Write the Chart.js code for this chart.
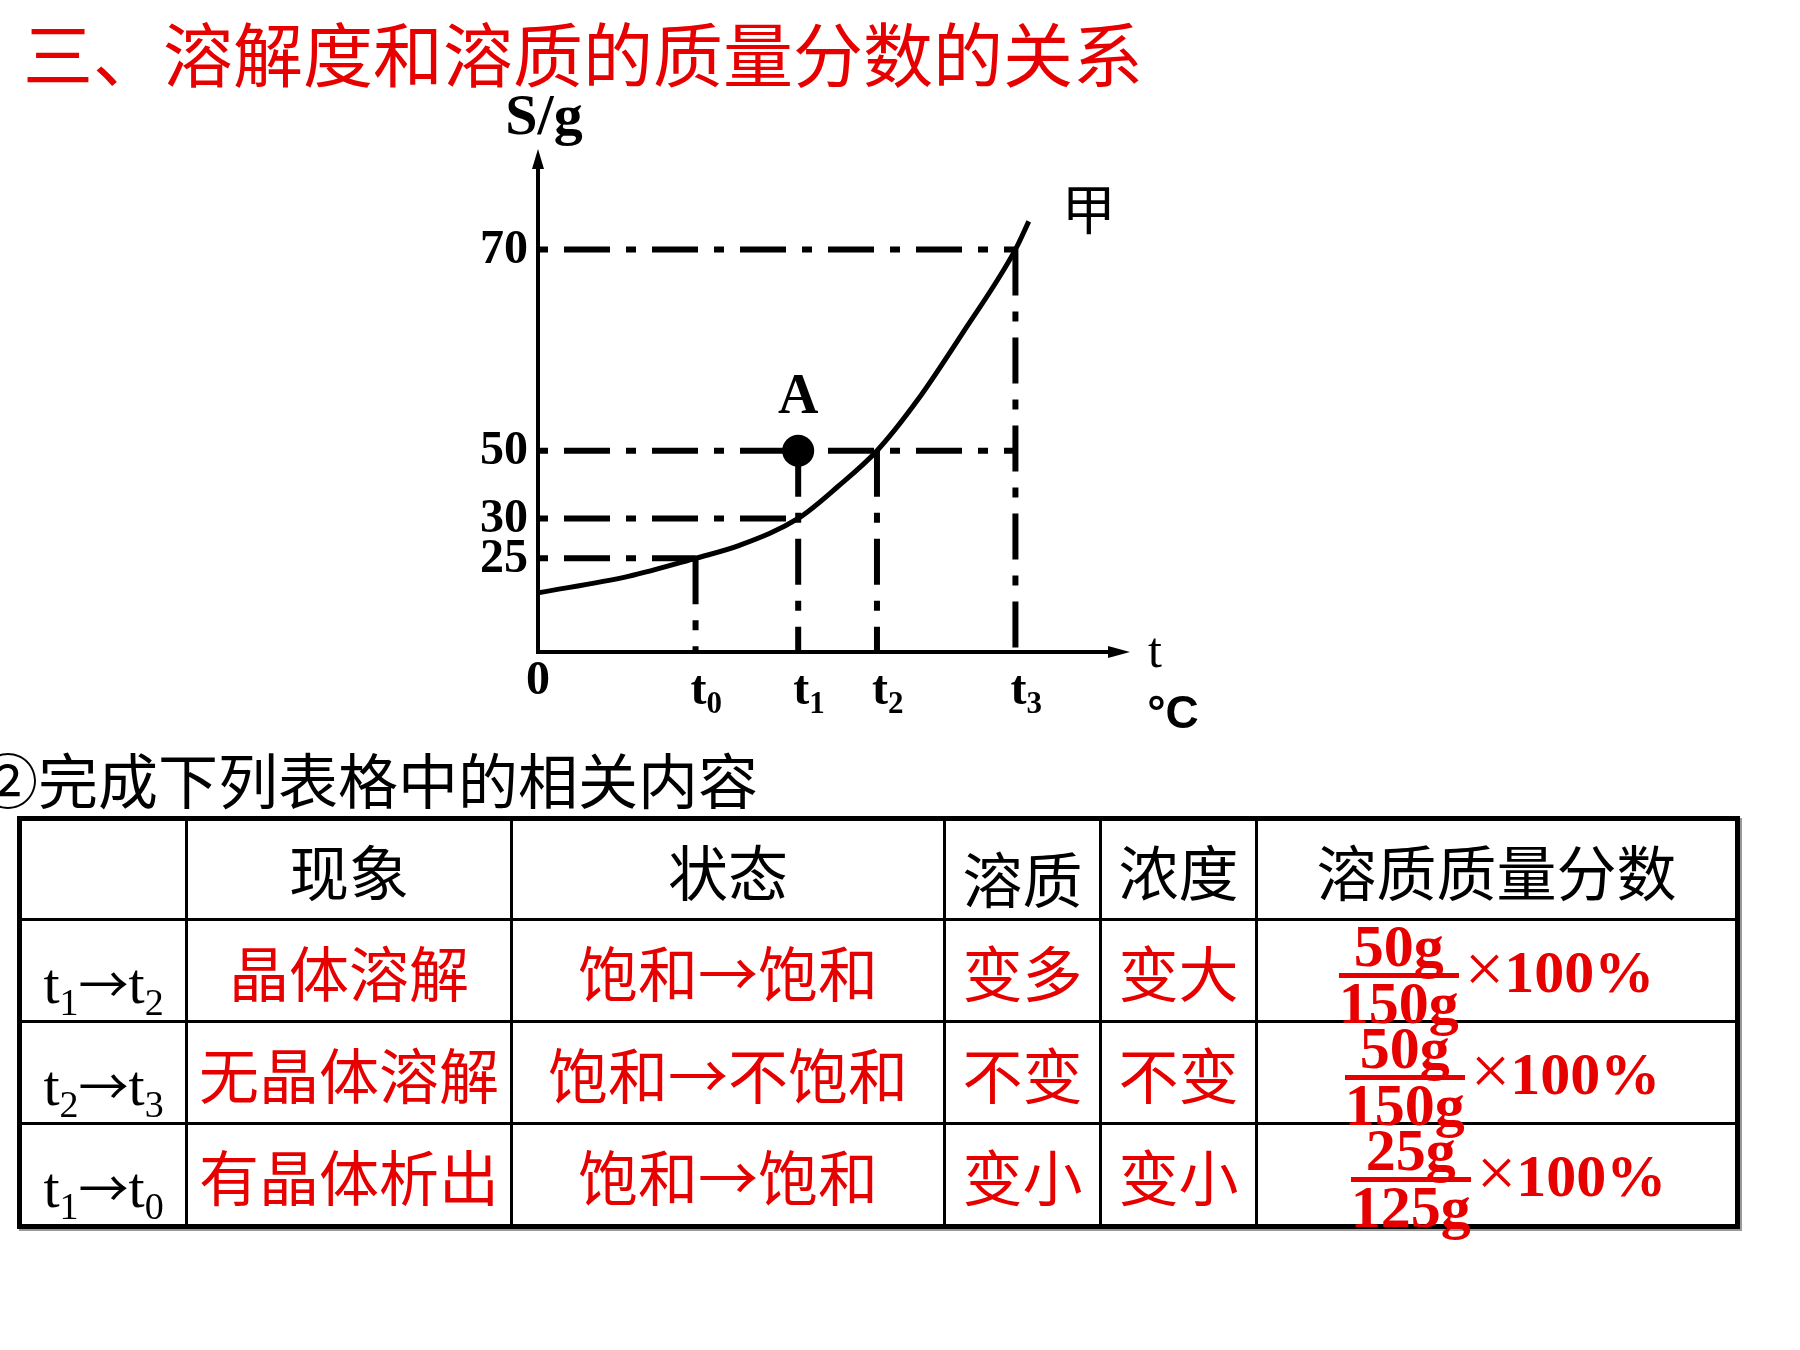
<!DOCTYPE html>
<html lang="zh">
<head>
    <meta charset="UTF-8">
    <title>溶解度和溶质的质量分数的关系</title>
    <script src="https://cdn.jsdelivr.net/npm/chart.js"></script>
    <style>
        body {
            margin: 0;
            width: 1800px;
            height: 1350px;
            background: #fff;
            position: relative;
            overflow: hidden;
            font-family: "Noto Sans CJK SC", sans-serif;
        }
        .title {
            position: absolute;
            left: 23px;
            top: 12px;
            font-size: 70px;
            line-height: 80px;
            color: #e60000;
            white-space: nowrap;
        }
        .sub {
            position: absolute;
            left: -22px;
            top: 742px;
            font-size: 60px;
            line-height: 72px;
            color: #000;
            white-space: nowrap;
        }
        .chart-box {
            position: absolute;
            left: 400px;
            top: 80px;
            width: 820px;
            height: 680px;
        }
        table {
            position: absolute;
            left: 17px;
            top: 816px;
            border-collapse: collapse;
            table-layout: fixed;
            border: 5px solid #000;
            box-shadow: 2px 2px 0 #999;
        }
        td {
            border: 3px solid #000;
            padding: 0;
            white-space: nowrap;
            font-size: 60px;
        }
        .c {
            box-sizing: border-box;
            height: 99px;
            display: flex;
            align-items: center;
            justify-content: center;
            overflow: visible;
            line-height: 64px;
        }
        .red { color: #e60000; }
        .lab {
            font-family: "Liberation Serif", serif;
            font-size: 58px;
            padding-top: 24px;
        }
        .lab sub { font-size: 38px; vertical-align: -12px; line-height: 0; }
        .lab .ar { font-family: "Noto Sans CJK SC", sans-serif; font-size: 50px; }
        .frac {
            display: inline-block;
            text-align: center;
            font-family: "Liberation Serif", serif;
            font-weight: bold;
            font-size: 60px;
            line-height: 44px;
            color: #e60000;
            position: relative;
            top: 4px;
        }
        .frac .num {
            display: block;
            padding: 0 6px 5px 6px;
            border-bottom: 5px solid #e60000;
        }
        .frac .den { display: block; padding-top: 3px; }
        .pct {
            display: inline-block;
            font-family: "Liberation Serif", serif;
            font-weight: bold;
            font-size: 60px;
            color: #e60000;
            margin-left: 6px;
        }
        .pct .x { font-weight: normal; font-size: 70px; }
    </style>
</head>
<body>
    <div class="title">三、溶解度和溶质的质量分数的关系</div>

    <div class="chart-box">
        <canvas id="chart" width="820" height="680"></canvas>
    </div>

    <div class="sub">②完成下列表格中的相关内容</div>

    <table>
        <colgroup>
            <col style="width:167px"><col style="width:325px"><col style="width:433px">
            <col style="width:156px"><col style="width:156px"><col style="width:481px">
        </colgroup>
        <tr>
            <td><div class="c" style="height:97px"></div></td>
            <td><div class="c" style="height:97px">现象</div></td>
            <td><div class="c" style="height:97px">状态</div></td>
            <td><div class="c" style="height:97px;padding-top:14px">溶质</div></td>
            <td><div class="c" style="height:97px">浓度</div></td>
            <td><div class="c" style="height:97px">溶质质量分数</div></td>
        </tr>
        <tr>
            <td><div class="c lab"><span>t<sub>1</sub><span class="ar">→</span>t<sub>2</sub></span></div></td>
            <td><div class="c red">晶体溶解</div></td>
            <td><div class="c red">饱和→饱和</div></td>
            <td><div class="c red">变多</div></td>
            <td><div class="c red">变大</div></td>
            <td><div class="c"><span class="frac"><span class="num">50g</span><span class="den">150g</span></span><span class="pct"><span class="x">×</span>100%</span></div></td>
        </tr>
        <tr>
            <td><div class="c lab"><span>t<sub>2</sub><span class="ar">→</span>t<sub>3</sub></span></div></td>
            <td><div class="c red">无晶体溶解</div></td>
            <td><div class="c red">饱和→不饱和</div></td>
            <td><div class="c red">不变</div></td>
            <td><div class="c red">不变</div></td>
            <td><div class="c" style="padding-left:12px"><span class="frac"><span class="num">50g</span><span class="den">150g</span></span><span class="pct"><span class="x">×</span>100%</span></div></td>
        </tr>
        <tr>
            <td><div class="c lab"><span>t<sub>1</sub><span class="ar">→</span>t<sub>0</sub></span></div></td>
            <td><div class="c red">有晶体析出</div></td>
            <td><div class="c red">饱和→饱和</div></td>
            <td><div class="c red">变小</div></td>
            <td><div class="c red">变小</div></td>
            <td><div class="c" style="padding-left:24px"><span class="frac"><span class="num">25g</span><span class="den">125g</span></span><span class="pct"><span class="x">×</span>100%</span></div></td>
        </tr>
    </table>

    <script>
        // temperature marks on the x axis (schematic positions, t3 = 100)
        const tLabels = ['t0', 't1', 't2', 't3'];
        const tPos = [33, 54.5, 71, 100];

        // solubility tick labels and where they sit on the (schematic) y axis, 70 g = 100
        const sTicks = [25, 30, 50, 70];
        const sPos = [23.3, 33.2, 50, 100];

        // curve 甲 in the same schematic units
        const curveX = [0, 18.9, 33, 42.2, 54.5, 62.7, 71, 79.5, 88.8, 100, 102.8];
        const curveY = [14.7, 18.8, 23.3, 26.5, 33.2, 41, 50, 62.6, 79, 100, 107];

        // dash-dot guide lines
        const hGuideLevel = [25, 30, 50, 70];
        const hGuideEnd = ['t0', 't1', 't3', 't3'];
        const vGuideAt = ['t0', 't1', 't2', 't3'];
        const vGuideTop = [25, 50, 50, 70];

        // point A
        const pointA = { t: 't1', s: 50 };

        const sy = v => sPos[sTicks.indexOf(v)];
        const tx = l => tPos[tLabels.indexOf(l)];

        const dash = [46, 16, 10, 16];
        const guideSets = [];
        hGuideLevel.forEach((lv, i) => {
            guideSets.push({
                data: [{ x: 0, y: sy(lv) }, { x: tx(hGuideEnd[i]), y: sy(lv) }],
                borderColor: '#000', borderWidth: 6, borderDash: dash, borderDashOffset: 62,
                pointRadius: 0, borderCapStyle: 'butt'
            });
        });
        vGuideAt.forEach((t, i) => {
            guideSets.push({
                data: [{ x: tx(t), y: sy(vGuideTop[i]) }, { x: tx(t), y: 0 }],
                borderColor: '#000', borderWidth: 6, borderDash: dash,
                pointRadius: 0, borderCapStyle: 'butt'
            });
        });

        const serif = '"Liberation Serif", "Times New Roman", serif';

        const decor = {
            id: 'decor',
            afterDatasetsDraw(chart) {
                const c = chart.ctx;
                const xs = chart.scales.x, ys = chart.scales.y;
                const ox = xs.getPixelForValue(0), oy = ys.getPixelForValue(0);
                const xEnd = xs.getPixelForValue(xs.max), yEnd = ys.getPixelForValue(ys.max);
                c.save();
                // axes
                c.strokeStyle = '#000';
                c.lineWidth = 4;
                c.beginPath();
                c.moveTo(ox, oy); c.lineTo(ox, yEnd + 10);
                c.moveTo(ox - 2, oy); c.lineTo(xEnd - 12, oy);
                c.stroke();
                c.fillStyle = '#000';
                c.beginPath();
                c.moveTo(ox, yEnd); c.lineTo(ox - 6, yEnd + 20); c.lineTo(ox + 6, yEnd + 20); c.closePath();
                c.fill();
                c.beginPath();
                c.moveTo(xEnd, oy); c.lineTo(xEnd - 22, oy - 6); c.lineTo(xEnd - 22, oy + 6); c.closePath();
                c.fill();

                // y tick labels
                c.font = 'bold 48px ' + serif;
                c.textAlign = 'right';
                c.textBaseline = 'middle';
                sTicks.forEach((v, i) => c.fillText(String(v), ox - 10, ys.getPixelForValue(sPos[i]) + 1));

                // origin and x tick labels with subscripts
                c.textAlign = 'center';
                c.fillText('0', ox, oy + 30);
                tLabels.forEach((l, i) => {
                    const px = xs.getPixelForValue(tPos[i]);
                    c.font = 'bold 48px ' + serif;
                    c.textAlign = 'center';
                    c.textBaseline = 'alphabetic';
                    c.fillText('t', px + 3, oy + 52);
                    c.font = 'bold 31px ' + serif;
                    c.textAlign = 'left';
                    c.fillText(l.slice(1), px + 11, oy + 61);
                });

                // axis titles
                c.textAlign = 'center';
                c.textBaseline = 'middle';
                c.font = 'bold 58px ' + serif;
                c.fillText('S/g', ox + 6, yEnd - 30);
                c.font = '50px ' + serif;
                c.fillText('t', xEnd + 25, oy + 2);
                c.font = 'bold 46px "Liberation Sans", Arial, sans-serif';
                c.fillText('°C', xEnd + 43, oy + 63);

                // curve name and point label
                c.font = '54px "Noto Sans CJK SC", sans-serif';
                c.fillText('甲', xs.getPixelForValue(curveX[curveX.length - 1]) + 60, ys.getPixelForValue(curveY[curveY.length - 1]) - 12);
                c.font = 'bold 56px ' + serif;
                c.fillText('A', xs.getPixelForValue(tx(pointA.t)), ys.getPixelForValue(sy(pointA.s)) - 52);
                c.restore();
            }
        };

        new Chart(document.getElementById('chart').getContext('2d'), {
            type: 'line',
            data: {
                datasets: [
                    {
                        data: [{ x: tx(pointA.t), y: sy(pointA.s) }],
                        showLine: false,
                        pointRadius: 16, pointHoverRadius: 16,
                        pointBackgroundColor: '#000', pointBorderColor: '#000', pointBorderWidth: 0
                    },
                    {
                        data: curveX.map((x, i) => ({ x: x, y: curveY[i] })),
                        borderColor: '#000', borderWidth: 5,
                        pointRadius: 0, cubicInterpolationMode: 'monotone'
                    },
                    ...guideSets
                ]
            },
            options: {
                responsive: false,
                animation: false,
                devicePixelRatio: 1,
                layout: { padding: { left: 138, right: 90, top: 69, bottom: 108 } },
                plugins: { legend: { display: false }, tooltip: { enabled: false } },
                scales: {
                    x: { type: 'linear', min: 0, max: 124, display: false },
                    y: { type: 'linear', min: 0, max: 125, display: false }
                },
                elements: { line: { tension: 0 } }
            },
            plugins: [decor]
        });
    </script>
</body>
</html>
